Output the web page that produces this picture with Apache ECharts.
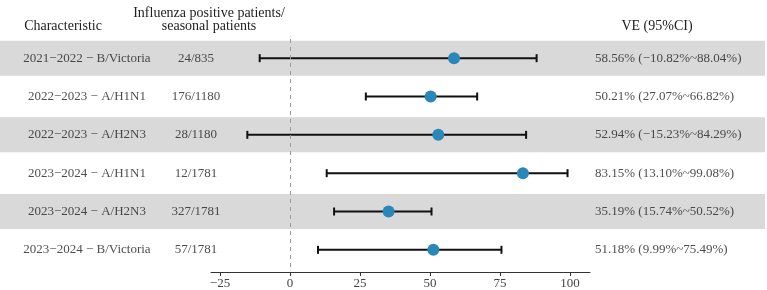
<!DOCTYPE html>
<html>
<head>
<meta charset="utf-8">
<script src="https://cdn.jsdelivr.net/npm/echarts@6/dist/echarts.min.js"></script>
<style>
  html, body { margin: 0; padding: 0; background: #fff; }
  #chart { width: 767px; height: 290px; }
</style>
</head>
<body>
<div id="chart"></div>
<script>
// rows of the forest plot
const characteristics = [
  '2021\u22122022 \u2212 B/Victoria',
  '2022\u22122023 \u2212 A/H1N1',
  '2022\u22122023 \u2212 A/H2N3',
  '2023\u22122024 \u2212 A/H1N1',
  '2023\u22122024 \u2212 A/H2N3',
  '2023\u22122024 \u2212 B/Victoria'
];
const patients = ['24/835', '176/1180', '28/1180', '12/1781', '327/1781', '57/1781'];
const ve = [58.56, 50.21, 52.94, 83.15, 35.19, 51.18];
const ciLow = [-10.82, 27.07, -15.23, 13.10, 15.74, 9.99];
const ciHigh = [88.04, 66.82, 84.29, 99.08, 50.52, 75.49];
const xTicks = [-25, 0, 25, 50, 75, 100];

const fmt = (v) => (v < 0 ? '\u2212' + Math.abs(v).toFixed(2) : v.toFixed(2)) + '%';
const veText = ve.map((v, i) => `${fmt(v)} (${fmt(ciLow[i])}~${fmt(ciHigh[i])})`);

const FONT = '"Liberation Serif", "Times New Roman", serif';
const TEXT = '#222';
const rowIdx = characteristics.map((_, i) => i);

const chart = echarts.init(document.getElementById('chart'));

const textSeries = (xPos, labels, align) => ({
  type: 'scatter',
  xAxisIndex: 0,
  yAxisIndex: 0,
  symbolSize: 0,
  silent: true,
  z: 5,
  data: rowIdx.map((i) => [xPos, i]),
  label: {
    show: true,
    position: 'inside',
    align: align,
    verticalAlign: 'middle',
    fontFamily: FONT,
    fontSize: 13,
    color: TEXT,
    formatter: (p) => labels[p.dataIndex]
  }
});

const option = {
  animation: false,
  backgroundColor: '#fff',
  title: [
    { text: 'Characteristic', left: 63, top: 20, textAlign: 'center' },
    { text: 'Influenza positive patients/\nseasonal patients', left: 209, top: 7, textAlign: 'center' },
    { text: 'VE (95%CI)', left: 657, top: 20, textAlign: 'center' }
  ].map((t) => ({
    ...t,
    padding: 0,
    textStyle: { fontFamily: FONT, fontSize: 14, fontWeight: 'normal', color: TEXT, lineHeight: 13 }
  })),
  grid: [
    { left: 0, right: 2, top: 39, height: 230 },
    { left: 211, width: 379, top: 39, height: 230 }
  ],
  xAxis: [
    { gridIndex: 0, type: 'value', min: 0, max: 765, show: false },
    {
      gridIndex: 1,
      type: 'value',
      min: -28.2,
      max: 107.1,
      offset: 3,
      splitLine: { show: false },
      axisLine: { show: true, lineStyle: { color: '#333', width: 1 } },
      axisTick: { show: true, length: 4, customValues: xTicks, lineStyle: { color: '#333' } },
      axisLabel: {
        customValues: xTicks,
        margin: 5,
        fontFamily: FONT,
        fontSize: 13,
        color: '#444',
        formatter: (v) => (v < 0 ? '\u2212' + Math.abs(v) : String(v))
      }
    }
  ],
  yAxis: [
    { gridIndex: 0, type: 'category', inverse: true, data: characteristics, show: false },
    { gridIndex: 1, type: 'category', inverse: true, data: characteristics, show: false }
  ],
  series: [
    {
      // alternating grey row bands
      type: 'bar',
      xAxisIndex: 0,
      yAxisIndex: 0,
      silent: true,
      barWidth: 35,
      itemStyle: { color: '#d9d9d9' },
      data: rowIdx.map((i) => (i % 2 === 0 ? 765 : '-'))
    },
    textSeries(87, characteristics, 'center'),
    textSeries(196, patients, 'center'),
    textSeries(595, veText, 'left'),
    {
      // confidence intervals
      type: 'custom',
      xAxisIndex: 1,
      yAxisIndex: 1,
      silent: true,
      z: 3,
      data: rowIdx.map((i) => [ciLow[i], ciHigh[i], i]),
      renderItem: (params, api) => {
        const a = api.coord([api.value(0), api.value(2)]);
        const b = api.coord([api.value(1), api.value(2)]);
        const h = 4;
        const style = { stroke: '#111', lineWidth: 2 };
        return {
          type: 'group',
          children: [
            { type: 'line', shape: { x1: a[0], y1: a[1], x2: b[0], y2: b[1] }, style },
            { type: 'line', shape: { x1: a[0], y1: a[1] - h, x2: a[0], y2: a[1] + h }, style },
            { type: 'line', shape: { x1: b[0], y1: b[1] - h, x2: b[0], y2: b[1] + h }, style }
          ]
        };
      }
    },
    {
      type: 'scatter',
      xAxisIndex: 1,
      yAxisIndex: 1,
      symbol: 'circle',
      symbolSize: 12,
      z: 4,
      itemStyle: { color: '#2a88b8', opacity: 1 },
      data: rowIdx.map((i) => [ve[i], i]),
      markLine: {
        silent: true,
        symbol: 'none',
        label: { show: false },
        lineStyle: { color: '#999', width: 1, type: [4, 4] },
        data: [{ xAxis: 0 }]
      }
    }
  ]
};

chart.setOption(option);
</script>
</body>
</html>
